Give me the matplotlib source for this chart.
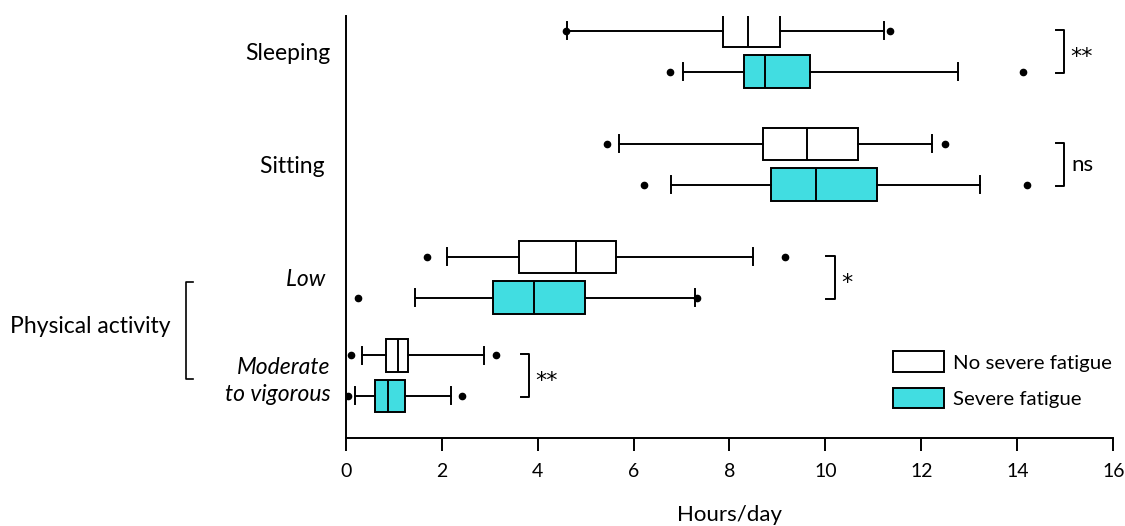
import matplotlib.pyplot as plt
import matplotlib.transforms as mtransforms
from matplotlib.patches import Patch

plt.rcParams['font.family'] = ['Lato', 'DejaVu Sans']

# Box statistics (hours/day)
# order: Sleeping, Sitting, Low PA, Moderate-to-vigorous PA
categories = ['Sleeping', 'Sitting ', 'Low ', 'Moderate\nto vigorous']
groupPos = [0, 1, 2, 2.87]

noWhisLo = [4.62, 5.69, 2.12, 0.35]
noQ1 = [7.87, 8.70, 3.62, 0.85]
noMed = [8.38, 9.61, 4.80, 1.09]
noQ3 = [9.05, 10.68, 5.63, 1.30]
noWhisHi = [11.23, 12.22, 8.50, 2.88]
noFliers = [[4.60, 11.35], [5.44, 12.49], [1.70, 9.15], [0.11, 3.14]]

sevWhisLo = [7.03, 6.79, 1.44, 0.19]
sevQ1 = [8.31, 8.86, 3.06, 0.62]
sevMed = [8.75, 9.80, 3.92, 0.89]
sevQ3 = [9.67, 11.07, 4.98, 1.24]
sevWhisHi = [12.77, 13.23, 7.28, 2.20]
sevFliers = [[6.76, 14.12], [6.22, 14.21], [0.26, 7.33], [0.05, 2.42]]

sigLabels = ['**', 'ns', '*', '**']
sigX = [14.97, 14.97, 10.19, 3.83]

seriesNames = ['No severe fatigue', 'Severe fatigue']
colNo = 'white'
colSev = '#41dde1'


def makeStats(lo, q1, med, q3, hi, fl):
    return [dict(whislo=a, q1=b, med=c, q3=d, whishi=e, fliers=f)
            for a, b, c, d, e, f in zip(lo, q1, med, q3, hi, fl)]


statsNo = makeStats(noWhisLo, noQ1, noMed, noQ3, noWhisHi, noFliers)
statsSev = makeStats(sevWhisLo, sevQ1, sevMed, sevQ3, sevWhisHi, sevFliers)

fig = plt.figure(figsize=(11.25, 5.26), dpi=100)
ax = fig.add_axes([345.7 / 1125, 1 - 437.7 / 526,
                   (1113.3 - 345.7) / 1125, (437.7 - 15.7) / 526])

off = 0.18
boxH = 0.29
lw = 1.4

for stats, shift, col in [(statsNo, -off, colNo), (statsSev, off, colSev)]:
    ax.bxp(stats, positions=[g + shift for g in groupPos],
           orientation='horizontal', widths=boxH, capwidths=0.15,
           patch_artist=True, manage_ticks=False,
           boxprops=dict(facecolor=col, edgecolor='black', linewidth=lw),
           medianprops=dict(color='black', linewidth=lw),
           whiskerprops=dict(color='black', linewidth=lw),
           capprops=dict(color='black', linewidth=lw),
           flierprops=dict(marker='o', markerfacecolor='black',
                           markeredgecolor='black', markersize=4.5))

# Significance brackets
bh = 0.19
tickL = 0.17
for g, x, lab in zip(groupPos, sigX, sigLabels):
    ax.plot([x - tickL, x, x, x - tickL], [g - bh, g - bh, g + bh, g + bh],
            color='black', linewidth=lw, clip_on=False)
    if lab == 'ns':
        ax.text(x + 0.15, g + 0.06, lab, fontsize=16, ha='left',
                va='baseline')
    else:
        ax.text(x + 0.13, g + 0.10, lab, fontsize=16, ha='left',
                va='baseline', family='DejaVu Sans')

ax.set_xlim(0, 16)
ax.set_ylim(3.42, -0.315)
ax.set_xticks(range(0, 17, 2))
ax.set_yticks(groupPos)
ax.set_yticklabels(categories)
for i in [2, 3]:
    ax.get_yticklabels()[i].set_style('italic')
ax.get_yticklabels()[3].set_linespacing(1.4)
ax.tick_params(axis='y', length=0, pad=11, labelsize=16.5)
ax.tick_params(axis='x', length=9.5, width=1.4, pad=9, labelsize=14)
ax.set_xlabel('Hours/day', fontsize=16, labelpad=18)

for side in ['top', 'right']:
    ax.spines[side].set_visible(False)
for side in ['left', 'bottom']:
    ax.spines[side].set_linewidth(1.4)

# Physical activity group label with bracket
trans = mtransforms.blended_transform_factory(fig.transFigure, ax.transData)
bx0 = 186 / 1125
bx1 = 193 / 1125
ax.plot([bx1, bx0, bx0, bx1], [2.04, 2.04, 2.9, 2.9], color='black',
        linewidth=1.2, transform=trans, clip_on=False)
ax.text(10 / 1125, (groupPos[2] + groupPos[3]) / 2, 'Physical activity',
        fontsize=16.5, ha='left', va='center', transform=trans)

handles = [Patch(facecolor=colNo, edgecolor='black', linewidth=lw),
           Patch(facecolor=colSev, edgecolor='black', linewidth=lw)]
ax.legend(handles, seriesNames, loc='upper left',
          bbox_to_anchor=(0.700, 0.229), frameon=False, fontsize=14.7,
          borderpad=0, handlelength=2.5, handleheight=1.2,
          labelspacing=0.75, handletextpad=0.45)

fig.savefig('out.png', dpi=100)
